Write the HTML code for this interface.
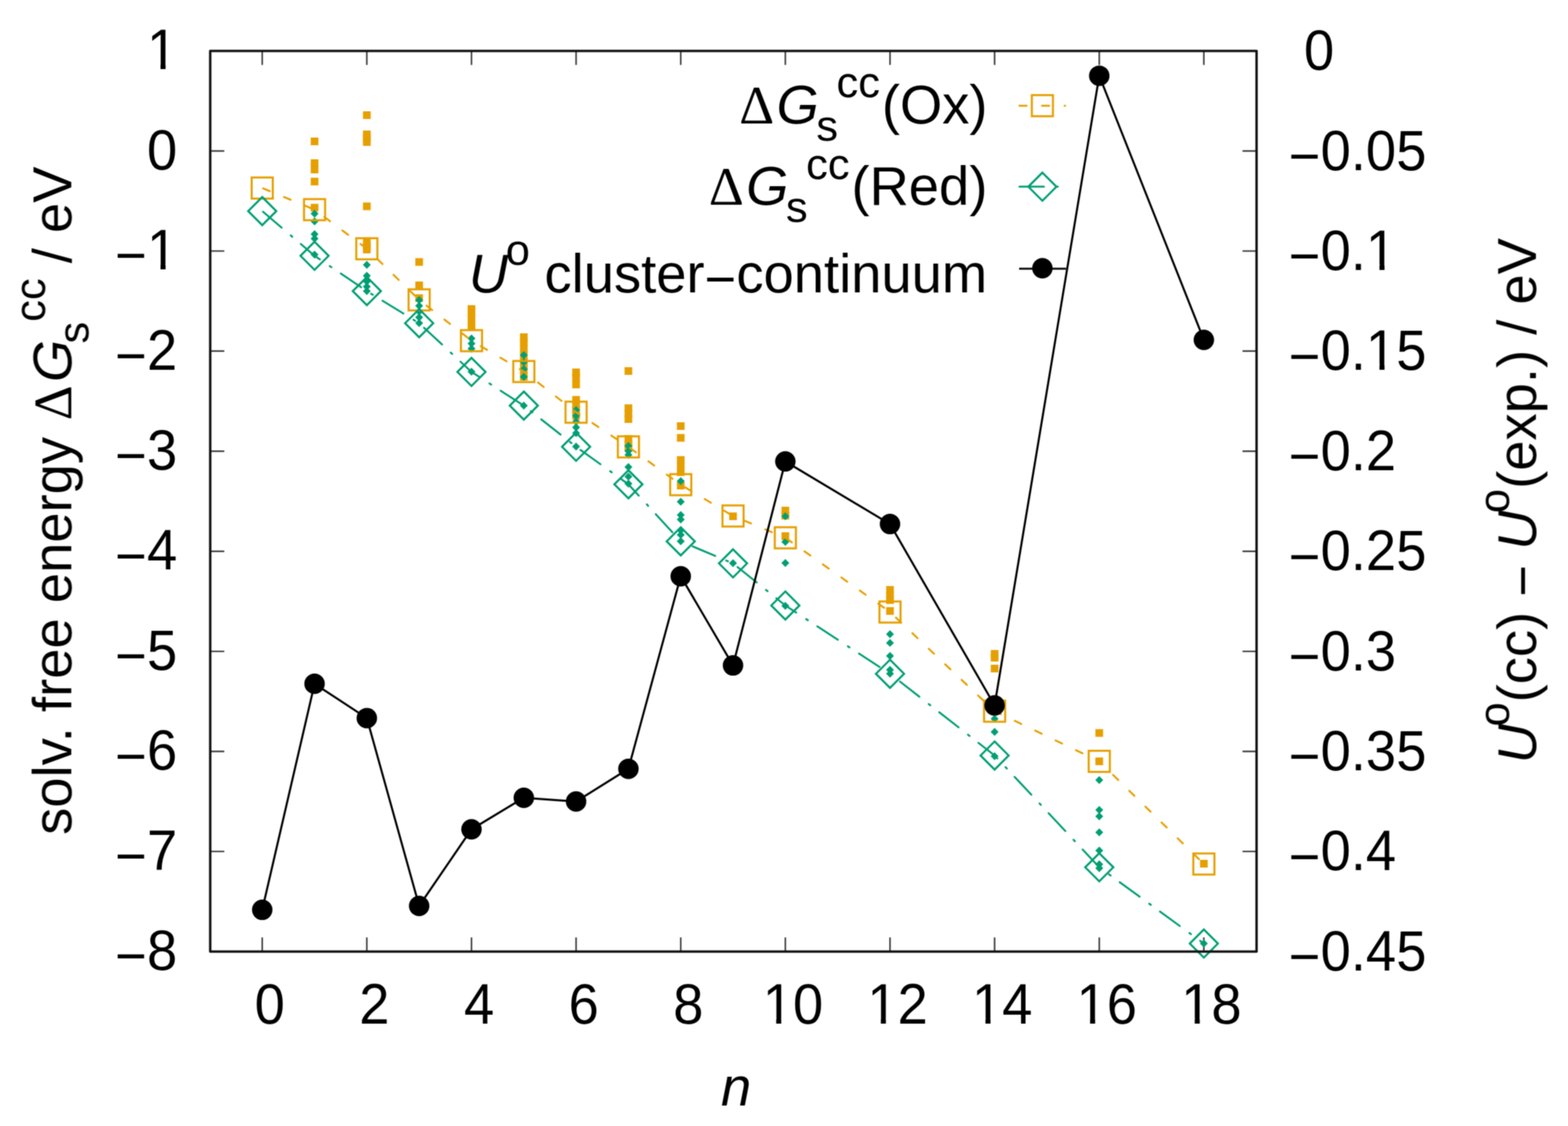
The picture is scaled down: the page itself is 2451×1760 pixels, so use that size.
<!DOCTYPE html><html><head><meta charset="utf-8"><style>html,body{margin:0;padding:0;background:#fff}svg{display:block}</style></head><body>
<svg width="2451" height="1760" viewBox="0 0 2451 1760">
<defs><filter id="soft" filterUnits="userSpaceOnUse" x="0" y="0" width="2451" height="1760" color-interpolation-filters="sRGB"><feConvolveMatrix order="3" kernelMatrix="1 2 1 2 4.0 2 1 2 1" edgeMode="duplicate"/></filter></defs>
<rect width="2451" height="1760" fill="#fff"/>
<g filter="url(#soft)">
<path d="M409.9,1487.3v-22M409.9,79.6v22M573.4,1487.3v-22M573.4,79.6v22M737.0,1487.3v-22M737.0,79.6v22M900.5,1487.3v-22M900.5,79.6v22M1064.1,1487.3v-22M1064.1,79.6v22M1227.6,1487.3v-22M1227.6,79.6v22M1391.2,1487.3v-22M1391.2,79.6v22M1554.7,1487.3v-22M1554.7,79.6v22M1718.3,1487.3v-22M1718.3,79.6v22M1881.8,1487.3v-22M1881.8,79.6v22M328.6,79.6h22M1964.2,79.6h-22M328.6,236.0h22M1964.2,236.0h-22M328.6,392.4h22M1964.2,392.4h-22M328.6,548.8h22M1964.2,548.8h-22M328.6,705.2h22M1964.2,705.2h-22M328.6,861.7h22M1964.2,861.7h-22M328.6,1018.1h22M1964.2,1018.1h-22M328.6,1174.5h22M1964.2,1174.5h-22M328.6,1330.9h22M1964.2,1330.9h-22M328.6,1487.3h22M1964.2,1487.3h-22" stroke="#3a3a3a" stroke-width="2.4" fill="none"/>
<g><rect x="485.7" y="215.0" width="12" height="12" fill="#E69F00"/><rect x="485.7" y="249.0" width="12" height="12" fill="#E69F00"/><rect x="485.7" y="259.0" width="12" height="12" fill="#E69F00"/><rect x="485.7" y="277.8" width="12" height="12" fill="#E69F00"/><rect x="485.7" y="318.6" width="12" height="12" fill="#E69F00"/><rect x="567.4" y="174.0" width="12" height="12" fill="#E69F00"/><rect x="567.4" y="204.0" width="12" height="12" fill="#E69F00"/><rect x="567.4" y="210.0" width="12" height="12" fill="#E69F00"/><rect x="567.4" y="216.0" width="12" height="12" fill="#E69F00"/><rect x="567.4" y="316.5" width="12" height="12" fill="#E69F00"/><rect x="567.4" y="372.0" width="12" height="12" fill="#E69F00"/><rect x="567.4" y="379.0" width="12" height="12" fill="#E69F00"/><rect x="567.4" y="384.0" width="12" height="12" fill="#E69F00"/><rect x="649.2" y="403.5" width="12" height="12" fill="#E69F00"/><rect x="649.2" y="440.0" width="12" height="12" fill="#E69F00"/><rect x="649.2" y="460.0" width="12" height="12" fill="#E69F00"/><rect x="731.0" y="477.0" width="12" height="12" fill="#E69F00"/><rect x="731.0" y="484.0" width="12" height="12" fill="#E69F00"/><rect x="731.0" y="491.0" width="12" height="12" fill="#E69F00"/><rect x="731.0" y="498.0" width="12" height="12" fill="#E69F00"/><rect x="731.0" y="505.0" width="12" height="12" fill="#E69F00"/><rect x="812.8" y="521.0" width="12" height="12" fill="#E69F00"/><rect x="812.8" y="529.0" width="12" height="12" fill="#E69F00"/><rect x="812.8" y="539.0" width="12" height="12" fill="#E69F00"/><rect x="812.8" y="550.0" width="12" height="12" fill="#E69F00"/><rect x="812.8" y="560.0" width="12" height="12" fill="#E69F00"/><rect x="812.8" y="572.0" width="12" height="12" fill="#E69F00"/><rect x="812.8" y="583.0" width="12" height="12" fill="#E69F00"/><rect x="894.5" y="576.0" width="12" height="12" fill="#E69F00"/><rect x="894.5" y="584.0" width="12" height="12" fill="#E69F00"/><rect x="894.5" y="595.0" width="12" height="12" fill="#E69F00"/><rect x="894.5" y="619.0" width="12" height="12" fill="#E69F00"/><rect x="894.5" y="627.0" width="12" height="12" fill="#E69F00"/><rect x="894.5" y="635.0" width="12" height="12" fill="#E69F00"/><rect x="894.5" y="644.0" width="12" height="12" fill="#E69F00"/><rect x="976.3" y="573.9" width="12" height="12" fill="#E69F00"/><rect x="976.3" y="632.0" width="12" height="12" fill="#E69F00"/><rect x="976.3" y="641.0" width="12" height="12" fill="#E69F00"/><rect x="976.3" y="649.0" width="12" height="12" fill="#E69F00"/><rect x="976.3" y="680.0" width="12" height="12" fill="#E69F00"/><rect x="976.3" y="688.0" width="12" height="12" fill="#E69F00"/><rect x="976.3" y="694.0" width="12" height="12" fill="#E69F00"/><rect x="1058.1" y="660.0" width="12" height="12" fill="#E69F00"/><rect x="1058.1" y="678.4" width="12" height="12" fill="#E69F00"/><rect x="1058.1" y="713.0" width="12" height="12" fill="#E69F00"/><rect x="1058.1" y="721.0" width="12" height="12" fill="#E69F00"/><rect x="1058.1" y="732.0" width="12" height="12" fill="#E69F00"/><rect x="1058.1" y="753.0" width="12" height="12" fill="#E69F00"/><rect x="1139.8" y="801.0" width="12" height="12" fill="#E69F00"/><rect x="1221.6" y="792.0" width="12" height="12" fill="#E69F00"/><rect x="1221.6" y="800.0" width="12" height="12" fill="#E69F00"/><rect x="1221.6" y="832.0" width="12" height="12" fill="#E69F00"/><rect x="1385.2" y="916.0" width="12" height="12" fill="#E69F00"/><rect x="1385.2" y="924.0" width="12" height="12" fill="#E69F00"/><rect x="1385.2" y="932.0" width="12" height="12" fill="#E69F00"/><rect x="1385.2" y="949.0" width="12" height="12" fill="#E69F00"/><rect x="1548.7" y="1016.0" width="12" height="12" fill="#E69F00"/><rect x="1548.7" y="1022.0" width="12" height="12" fill="#E69F00"/><rect x="1548.7" y="1039.0" width="12" height="12" fill="#E69F00"/><rect x="1712.3" y="1139.7" width="12" height="12" fill="#E69F00"/><rect x="1712.3" y="1184.0" width="12" height="12" fill="#E69F00"/><rect x="1875.8" y="1344.0" width="12" height="12" fill="#E69F00"/></g>
<g><path d="M491.7,327.8L497.9,334.0L491.7,340.2L485.5,334.0Z" fill="#009E73"/><path d="M491.7,339.8L497.9,346.0L491.7,352.2L485.5,346.0Z" fill="#009E73"/><path d="M491.7,359.8L497.9,366.0L491.7,372.2L485.5,366.0Z" fill="#009E73"/><path d="M491.7,366.8L497.9,373.0L491.7,379.2L485.5,373.0Z" fill="#009E73"/><path d="M491.7,391.8L497.9,398.0L491.7,404.2L485.5,398.0Z" fill="#009E73"/><path d="M573.4,407.8L579.6,414.0L573.4,420.2L567.2,414.0Z" fill="#009E73"/><path d="M573.4,424.8L579.6,431.0L573.4,437.2L567.2,431.0Z" fill="#009E73"/><path d="M573.4,433.8L579.6,440.0L573.4,446.2L567.2,440.0Z" fill="#009E73"/><path d="M573.4,441.8L579.6,448.0L573.4,454.2L567.2,448.0Z" fill="#009E73"/><path d="M573.4,448.8L579.6,455.0L573.4,461.2L567.2,455.0Z" fill="#009E73"/><path d="M655.2,462.8L661.4,469.0L655.2,475.2L649.0,469.0Z" fill="#009E73"/><path d="M655.2,471.8L661.4,478.0L655.2,484.2L649.0,478.0Z" fill="#009E73"/><path d="M655.2,480.8L661.4,487.0L655.2,493.2L649.0,487.0Z" fill="#009E73"/><path d="M655.2,489.8L661.4,496.0L655.2,502.2L649.0,496.0Z" fill="#009E73"/><path d="M655.2,498.8L661.4,505.0L655.2,511.2L649.0,505.0Z" fill="#009E73"/><path d="M737.0,522.8L743.2,529.0L737.0,535.2L730.8,529.0Z" fill="#009E73"/><path d="M737.0,530.8L743.2,537.0L737.0,543.2L730.8,537.0Z" fill="#009E73"/><path d="M737.0,538.8L743.2,545.0L737.0,551.2L730.8,545.0Z" fill="#009E73"/><path d="M737.0,574.8L743.2,581.0L737.0,587.2L730.8,581.0Z" fill="#009E73"/><path d="M818.8,548.8L825.0,555.0L818.8,561.2L812.6,555.0Z" fill="#009E73"/><path d="M818.8,559.8L825.0,566.0L818.8,572.2L812.6,566.0Z" fill="#009E73"/><path d="M818.8,570.8L825.0,577.0L818.8,583.2L812.6,577.0Z" fill="#009E73"/><path d="M818.8,582.8L825.0,589.0L818.8,595.2L812.6,589.0Z" fill="#009E73"/><path d="M818.8,627.8L825.0,634.0L818.8,640.2L812.6,634.0Z" fill="#009E73"/><path d="M900.5,634.8L906.7,641.0L900.5,647.2L894.3,641.0Z" fill="#009E73"/><path d="M900.5,643.8L906.7,650.0L900.5,656.2L894.3,650.0Z" fill="#009E73"/><path d="M900.5,652.8L906.7,659.0L900.5,665.2L894.3,659.0Z" fill="#009E73"/><path d="M900.5,661.8L906.7,668.0L900.5,674.2L894.3,668.0Z" fill="#009E73"/><path d="M900.5,670.8L906.7,677.0L900.5,683.2L894.3,677.0Z" fill="#009E73"/><path d="M900.5,691.8L906.7,698.0L900.5,704.2L894.3,698.0Z" fill="#009E73"/><path d="M982.3,690.8L988.5,697.0L982.3,703.2L976.1,697.0Z" fill="#009E73"/><path d="M982.3,698.8L988.5,705.0L982.3,711.2L976.1,705.0Z" fill="#009E73"/><path d="M982.3,704.8L988.5,711.0L982.3,717.2L976.1,711.0Z" fill="#009E73"/><path d="M982.3,723.8L988.5,730.0L982.3,736.2L976.1,730.0Z" fill="#009E73"/><path d="M982.3,738.8L988.5,745.0L982.3,751.2L976.1,745.0Z" fill="#009E73"/><path d="M982.3,749.8L988.5,756.0L982.3,762.2L976.1,756.0Z" fill="#009E73"/><path d="M1064.1,745.8L1070.3,752.0L1064.1,758.2L1057.9,752.0Z" fill="#009E73"/><path d="M1064.1,778.1L1070.3,784.3L1064.1,790.5L1057.9,784.3Z" fill="#009E73"/><path d="M1064.1,798.8L1070.3,805.0L1064.1,811.2L1057.9,805.0Z" fill="#009E73"/><path d="M1064.1,805.8L1070.3,812.0L1064.1,818.2L1057.9,812.0Z" fill="#009E73"/><path d="M1064.1,822.8L1070.3,829.0L1064.1,835.2L1057.9,829.0Z" fill="#009E73"/><path d="M1064.1,829.8L1070.3,836.0L1064.1,842.2L1057.9,836.0Z" fill="#009E73"/><path d="M1064.1,839.8L1070.3,846.0L1064.1,852.2L1057.9,846.0Z" fill="#009E73"/><path d="M1145.8,874.1L1152.0,880.3L1145.8,886.5L1139.6,880.3Z" fill="#009E73"/><path d="M1227.6,800.8L1233.8,807.0L1227.6,813.2L1221.4,807.0Z" fill="#009E73"/><path d="M1227.6,840.8L1233.8,847.0L1227.6,853.2L1221.4,847.0Z" fill="#009E73"/><path d="M1227.6,873.8L1233.8,880.0L1227.6,886.2L1221.4,880.0Z" fill="#009E73"/><path d="M1227.6,940.8L1233.8,947.0L1227.6,953.2L1221.4,947.0Z" fill="#009E73"/><path d="M1391.2,985.1L1397.4,991.3L1391.2,997.5L1385.0,991.3Z" fill="#009E73"/><path d="M1391.2,998.7L1397.4,1004.9L1391.2,1011.1L1385.0,1004.9Z" fill="#009E73"/><path d="M1391.2,1019.1L1397.4,1025.3L1391.2,1031.5L1385.0,1025.3Z" fill="#009E73"/><path d="M1391.2,1040.8L1397.4,1047.0L1391.2,1053.2L1385.0,1047.0Z" fill="#009E73"/><path d="M1391.2,1046.8L1397.4,1053.0L1391.2,1059.2L1385.0,1053.0Z" fill="#009E73"/><path d="M1554.7,1117.3L1560.9,1123.5L1554.7,1129.7L1548.5,1123.5Z" fill="#009E73"/><path d="M1554.7,1137.8L1560.9,1144.0L1554.7,1150.2L1548.5,1144.0Z" fill="#009E73"/><path d="M1554.7,1175.8L1560.9,1182.0L1554.7,1188.2L1548.5,1182.0Z" fill="#009E73"/><path d="M1718.3,1213.1L1724.5,1219.3L1718.3,1225.5L1712.1,1219.3Z" fill="#009E73"/><path d="M1718.3,1259.8L1724.5,1266.0L1718.3,1272.2L1712.1,1266.0Z" fill="#009E73"/><path d="M1718.3,1269.8L1724.5,1276.0L1718.3,1282.2L1712.1,1276.0Z" fill="#009E73"/><path d="M1718.3,1294.8L1724.5,1301.0L1718.3,1307.2L1712.1,1301.0Z" fill="#009E73"/><path d="M1718.3,1323.2L1724.5,1329.4L1718.3,1335.6L1712.1,1329.4Z" fill="#009E73"/><path d="M1718.3,1344.8L1724.5,1351.0L1718.3,1357.2L1712.1,1351.0Z" fill="#009E73"/><path d="M1718.3,1350.8L1724.5,1357.0L1718.3,1363.2L1712.1,1357.0Z" fill="#009E73"/><path d="M1881.8,1468.6L1888.0,1474.8L1881.8,1481.0L1875.6,1474.8Z" fill="#009E73"/></g>
<polyline points="409.9,293.9 491.7,327.7 573.4,388.8 655.2,468.7 737.0,532.5 818.8,580.7 900.5,644.3 982.3,698.5 1064.1,757.6 1145.8,806.5 1227.6,840.6 1391.2,956.6 1554.7,1111.6 1718.3,1190.0 1881.8,1350.5" fill="none" stroke="#E69F00" stroke-width="3" stroke-linecap="round" stroke-dasharray="11.3 24.05" stroke-dashoffset="-1.4"/>
<rect x="393.4" y="277.4" width="33" height="33" fill="none" stroke="#E69F00" stroke-width="3.2"/><rect x="475.2" y="311.2" width="33" height="33" fill="none" stroke="#E69F00" stroke-width="3.2"/><rect x="556.9" y="372.3" width="33" height="33" fill="none" stroke="#E69F00" stroke-width="3.2"/><rect x="638.7" y="452.2" width="33" height="33" fill="none" stroke="#E69F00" stroke-width="3.2"/><rect x="720.5" y="516.0" width="33" height="33" fill="none" stroke="#E69F00" stroke-width="3.2"/><rect x="802.3" y="564.2" width="33" height="33" fill="none" stroke="#E69F00" stroke-width="3.2"/><rect x="884.0" y="627.8" width="33" height="33" fill="none" stroke="#E69F00" stroke-width="3.2"/><rect x="965.8" y="682.0" width="33" height="33" fill="none" stroke="#E69F00" stroke-width="3.2"/><rect x="1047.6" y="741.1" width="33" height="33" fill="none" stroke="#E69F00" stroke-width="3.2"/><rect x="1129.3" y="790.0" width="33" height="33" fill="none" stroke="#E69F00" stroke-width="3.2"/><rect x="1211.1" y="824.1" width="33" height="33" fill="none" stroke="#E69F00" stroke-width="3.2"/><rect x="1374.7" y="940.1" width="33" height="33" fill="none" stroke="#E69F00" stroke-width="3.2"/><rect x="1538.2" y="1095.1" width="33" height="33" fill="none" stroke="#E69F00" stroke-width="3.2"/><rect x="1701.8" y="1173.5" width="33" height="33" fill="none" stroke="#E69F00" stroke-width="3.2"/><rect x="1865.3" y="1334.0" width="33" height="33" fill="none" stroke="#E69F00" stroke-width="3.2"/>
<polyline points="409.9,330.0 491.7,399.8 573.4,455.0 655.2,505.2 737.0,581.3 818.8,634.0 900.5,698.3 982.3,757.0 1064.1,846.2 1145.8,880.6 1227.6,946.4 1391.2,1053.2 1554.7,1180.9 1718.3,1355.6 1881.8,1474.8" fill="none" stroke="#009E73" stroke-width="3" stroke-linecap="round" stroke-dasharray="38.4 18.6 3.1 17.66" stroke-dashoffset="-1.5"/>
<path d="M409.9,308.0L431.9,330.0L409.9,352.0L387.9,330.0Z" fill="none" stroke="#009E73" stroke-width="3.2"/><path d="M491.7,377.8L513.7,399.8L491.7,421.8L469.7,399.8Z" fill="none" stroke="#009E73" stroke-width="3.2"/><path d="M573.4,433.0L595.4,455.0L573.4,477.0L551.4,455.0Z" fill="none" stroke="#009E73" stroke-width="3.2"/><path d="M655.2,483.2L677.2,505.2L655.2,527.2L633.2,505.2Z" fill="none" stroke="#009E73" stroke-width="3.2"/><path d="M737.0,559.3L759.0,581.3L737.0,603.3L715.0,581.3Z" fill="none" stroke="#009E73" stroke-width="3.2"/><path d="M818.8,612.0L840.8,634.0L818.8,656.0L796.8,634.0Z" fill="none" stroke="#009E73" stroke-width="3.2"/><path d="M900.5,676.3L922.5,698.3L900.5,720.3L878.5,698.3Z" fill="none" stroke="#009E73" stroke-width="3.2"/><path d="M982.3,735.0L1004.3,757.0L982.3,779.0L960.3,757.0Z" fill="none" stroke="#009E73" stroke-width="3.2"/><path d="M1064.1,824.2L1086.1,846.2L1064.1,868.2L1042.1,846.2Z" fill="none" stroke="#009E73" stroke-width="3.2"/><path d="M1145.8,858.6L1167.8,880.6L1145.8,902.6L1123.8,880.6Z" fill="none" stroke="#009E73" stroke-width="3.2"/><path d="M1227.6,924.4L1249.6,946.4L1227.6,968.4L1205.6,946.4Z" fill="none" stroke="#009E73" stroke-width="3.2"/><path d="M1391.2,1031.2L1413.2,1053.2L1391.2,1075.2L1369.2,1053.2Z" fill="none" stroke="#009E73" stroke-width="3.2"/><path d="M1554.7,1158.9L1576.7,1180.9L1554.7,1202.9L1532.7,1180.9Z" fill="none" stroke="#009E73" stroke-width="3.2"/><path d="M1718.3,1333.6L1740.3,1355.6L1718.3,1377.6L1696.3,1355.6Z" fill="none" stroke="#009E73" stroke-width="3.2"/><path d="M1881.8,1452.8L1903.8,1474.8L1881.8,1496.8L1859.8,1474.8Z" fill="none" stroke="#009E73" stroke-width="3.2"/>
<polyline points="409.9,1422.1 491.7,1068.8 573.4,1122.4 655.2,1416.0 737.0,1296.3 818.8,1247.0 900.5,1252.8 982.3,1201.7 1064.1,900.7 1145.8,1040.1 1227.6,721.3 1391.2,819.1 1554.7,1102.6 1718.3,118.4 1881.8,531.2" fill="none" stroke="#000000" stroke-width="3.2"/>
<circle cx="409.9" cy="1422.1" r="16"/><circle cx="491.7" cy="1068.8" r="16"/><circle cx="573.4" cy="1122.4" r="16"/><circle cx="655.2" cy="1416.0" r="16"/><circle cx="737.0" cy="1296.3" r="16"/><circle cx="818.8" cy="1247.0" r="16"/><circle cx="900.5" cy="1252.8" r="16"/><circle cx="982.3" cy="1201.7" r="16"/><circle cx="1064.1" cy="900.7" r="16"/><circle cx="1145.8" cy="1040.1" r="16"/><circle cx="1227.6" cy="721.3" r="16"/><circle cx="1391.2" cy="819.1" r="16"/><circle cx="1554.7" cy="1102.6" r="16"/><circle cx="1718.3" cy="118.4" r="16"/><circle cx="1881.8" cy="531.2" r="16"/>
<rect x="328.6" y="79.6" width="1635.6" height="1407.7" fill="none" stroke="#111" stroke-width="3.8" stroke-linejoin="round"/>
<g font-family="'Liberation Sans', Arial, Helvetica, sans-serif" font-size="85" fill="#000">
<text transform="translate(277,108.3) scale(1,1.04)" text-anchor="end">1</text>
<text transform="translate(277,264.7) scale(1,1.04)" text-anchor="end">0</text>
<text transform="translate(277,421.1) scale(1,1.04)" text-anchor="end"><tspan dy="8.0">−</tspan><tspan dy="-8.0">1</tspan></text>
<text transform="translate(277,577.5) scale(1,1.04)" text-anchor="end"><tspan dy="8.0">−</tspan><tspan dy="-8.0">2</tspan></text>
<text transform="translate(277,733.9) scale(1,1.04)" text-anchor="end"><tspan dy="8.0">−</tspan><tspan dy="-8.0">3</tspan></text>
<text transform="translate(277,890.4) scale(1,1.04)" text-anchor="end"><tspan dy="8.0">−</tspan><tspan dy="-8.0">4</tspan></text>
<text transform="translate(277,1046.8) scale(1,1.04)" text-anchor="end"><tspan dy="8.0">−</tspan><tspan dy="-8.0">5</tspan></text>
<text transform="translate(277,1203.2) scale(1,1.04)" text-anchor="end"><tspan dy="8.0">−</tspan><tspan dy="-8.0">6</tspan></text>
<text transform="translate(277,1359.6) scale(1,1.04)" text-anchor="end"><tspan dy="8.0">−</tspan><tspan dy="-8.0">7</tspan></text>
<text transform="translate(277,1516.0) scale(1,1.04)" text-anchor="end"><tspan dy="8.0">−</tspan><tspan dy="-8.0">8</tspan></text>
<text transform="translate(2038.2,109.1) scale(1,1.04)">0</text>
<text transform="translate(2014.6,265.5) scale(1,1.04)"><tspan dy="8.0">−</tspan><tspan dy="-8.0">0.05</tspan></text>
<text transform="translate(2014.6,421.9) scale(1,1.04)"><tspan dy="8.0">−</tspan><tspan dy="-8.0">0.1</tspan></text>
<text transform="translate(2014.6,578.3) scale(1,1.04)"><tspan dy="8.0">−</tspan><tspan dy="-8.0">0.15</tspan></text>
<text transform="translate(2014.6,734.7) scale(1,1.04)"><tspan dy="8.0">−</tspan><tspan dy="-8.0">0.2</tspan></text>
<text transform="translate(2014.6,891.2) scale(1,1.04)"><tspan dy="8.0">−</tspan><tspan dy="-8.0">0.25</tspan></text>
<text transform="translate(2014.6,1047.6) scale(1,1.04)"><tspan dy="8.0">−</tspan><tspan dy="-8.0">0.3</tspan></text>
<text transform="translate(2014.6,1204.0) scale(1,1.04)"><tspan dy="8.0">−</tspan><tspan dy="-8.0">0.35</tspan></text>
<text transform="translate(2014.6,1360.4) scale(1,1.04)"><tspan dy="8.0">−</tspan><tspan dy="-8.0">0.4</tspan></text>
<text transform="translate(2014.6,1516.8) scale(1,1.04)"><tspan dy="8.0">−</tspan><tspan dy="-8.0">0.45</tspan></text>
<text transform="translate(421.7,1600.4) scale(1,1.04)" text-anchor="middle">0</text>
<text transform="translate(585.2,1600.4) scale(1,1.04)" text-anchor="middle">2</text>
<text transform="translate(748.8,1600.4) scale(1,1.04)" text-anchor="middle">4</text>
<text transform="translate(912.3,1600.4) scale(1,1.04)" text-anchor="middle">6</text>
<text transform="translate(1075.9,1600.4) scale(1,1.04)" text-anchor="middle">8</text>
<text transform="translate(1239.4,1600.4) scale(1,1.04)" text-anchor="middle">10</text>
<text transform="translate(1403.0,1600.4) scale(1,1.04)" text-anchor="middle">12</text>
<text transform="translate(1566.5,1600.4) scale(1,1.04)" text-anchor="middle">14</text>
<text transform="translate(1730.1,1600.4) scale(1,1.04)" text-anchor="middle">16</text>
<text transform="translate(1893.6,1600.4) scale(1,1.04)" text-anchor="middle">18</text>
<text x="1127" y="1727.5" font-style="italic">n</text>
<text y="192.5"><tspan x="1155.6" font-family="'Liberation Serif', 'Times New Roman', serif">Δ</tspan><tspan x="1213.7" font-style="italic">G</tspan><tspan x="1276" dy="27.7" font-size="68">s</tspan><tspan x="1307.6" dy="-67.9" font-size="68">cc</tspan><tspan x="1378.4" dy="40.2">(Ox)</tspan></text>
<text y="319.7"><tspan x="1108.1" font-family="'Liberation Serif', 'Times New Roman', serif">Δ</tspan><tspan x="1166.2" font-style="italic">G</tspan><tspan x="1228.5" dy="27.7" font-size="68">s</tspan><tspan x="1260.1" dy="-67.9" font-size="68">cc</tspan><tspan x="1330.9" dy="40.2">(Red)</tspan></text>
<text y="457"><tspan x="732.7" font-style="italic">U</tspan><tspan x="790.6" dy="-42.6" font-size="68">o</tspan><tspan x="851" dy="42.6">cluster<tspan dy="8.0">−</tspan><tspan dy="-8.0">continuum</tspan></tspan></text>
<text transform="translate(111.4,1305) rotate(-90)">solv. free energy <tspan dx="2.4" font-family="'Liberation Serif', 'Times New Roman', serif">Δ</tspan><tspan dx="5" font-style="italic">G</tspan><tspan dx="-5.9" dy="26.8" font-size="68">s</tspan><tspan dy="-67.4" font-size="68">cc</tspan><tspan dy="40.6"> / eV</tspan></text>
<text transform="translate(2400.8,1193.1) rotate(-90)"><tspan font-style="italic">U</tspan><tspan dx="-4" dy="-42.5" font-size="68">o</tspan><tspan dy="42.5">(cc) </tspan><tspan dy="8.0">−</tspan><tspan dy="-8.0"> </tspan><tspan font-style="italic">U</tspan><tspan dx="-4" dy="-42.5" font-size="68">o</tspan><tspan dy="42.5">(exp.) / eV</tspan></text>
</g>
<g fill="#fff"><rect x="234.83" y="99.38" width="16.07" height="10.93"/><rect x="258.80" y="99.38" width="15.56" height="10.93"/><rect x="234.83" y="412.20" width="16.07" height="10.93"/><rect x="258.80" y="412.20" width="15.56" height="10.93"/><rect x="2140.25" y="413.00" width="16.07" height="10.93"/><rect x="2164.22" y="413.00" width="15.56" height="10.93"/><rect x="2140.25" y="569.41" width="16.07" height="10.93"/><rect x="2164.22" y="569.41" width="15.56" height="10.93"/><rect x="1197.25" y="1591.48" width="16.07" height="10.93"/><rect x="1221.22" y="1591.48" width="15.56" height="10.93"/><rect x="1360.79" y="1591.48" width="16.07" height="10.93"/><rect x="1384.76" y="1591.48" width="15.56" height="10.93"/><rect x="1524.34" y="1591.48" width="16.07" height="10.93"/><rect x="1548.31" y="1591.48" width="15.56" height="10.93"/><rect x="1687.88" y="1591.48" width="16.07" height="10.93"/><rect x="1711.85" y="1591.48" width="15.56" height="10.93"/><rect x="1851.43" y="1591.48" width="16.07" height="10.93"/><rect x="1875.40" y="1591.48" width="15.56" height="10.93"/></g>
<path d="M1592,165.2H1665" stroke="#E69F00" stroke-width="3" stroke-linecap="round" stroke-dasharray="11.3 24.05" stroke-dashoffset="-1.4"/>
<rect x="1612.9" y="148.7" width="33" height="33" fill="none" stroke="#E69F00" stroke-width="3.2"/>
<path d="M1592,291.8H1665" stroke="#009E73" stroke-width="3" stroke-linecap="round" stroke-dasharray="38.4 18.6 3.1 17.66" stroke-dashoffset="-1.5"/>
<path d="M1629.4,269.8L1651.4,291.8L1629.4,313.8L1607.4,291.8Z" fill="none" stroke="#009E73" stroke-width="3.2"/>
<path d="M1593,420.0H1666.5" stroke="#000000" stroke-width="3.2"/>
<circle cx="1629.4" cy="419.2" r="16"/>
</g>
</svg></body></html>
